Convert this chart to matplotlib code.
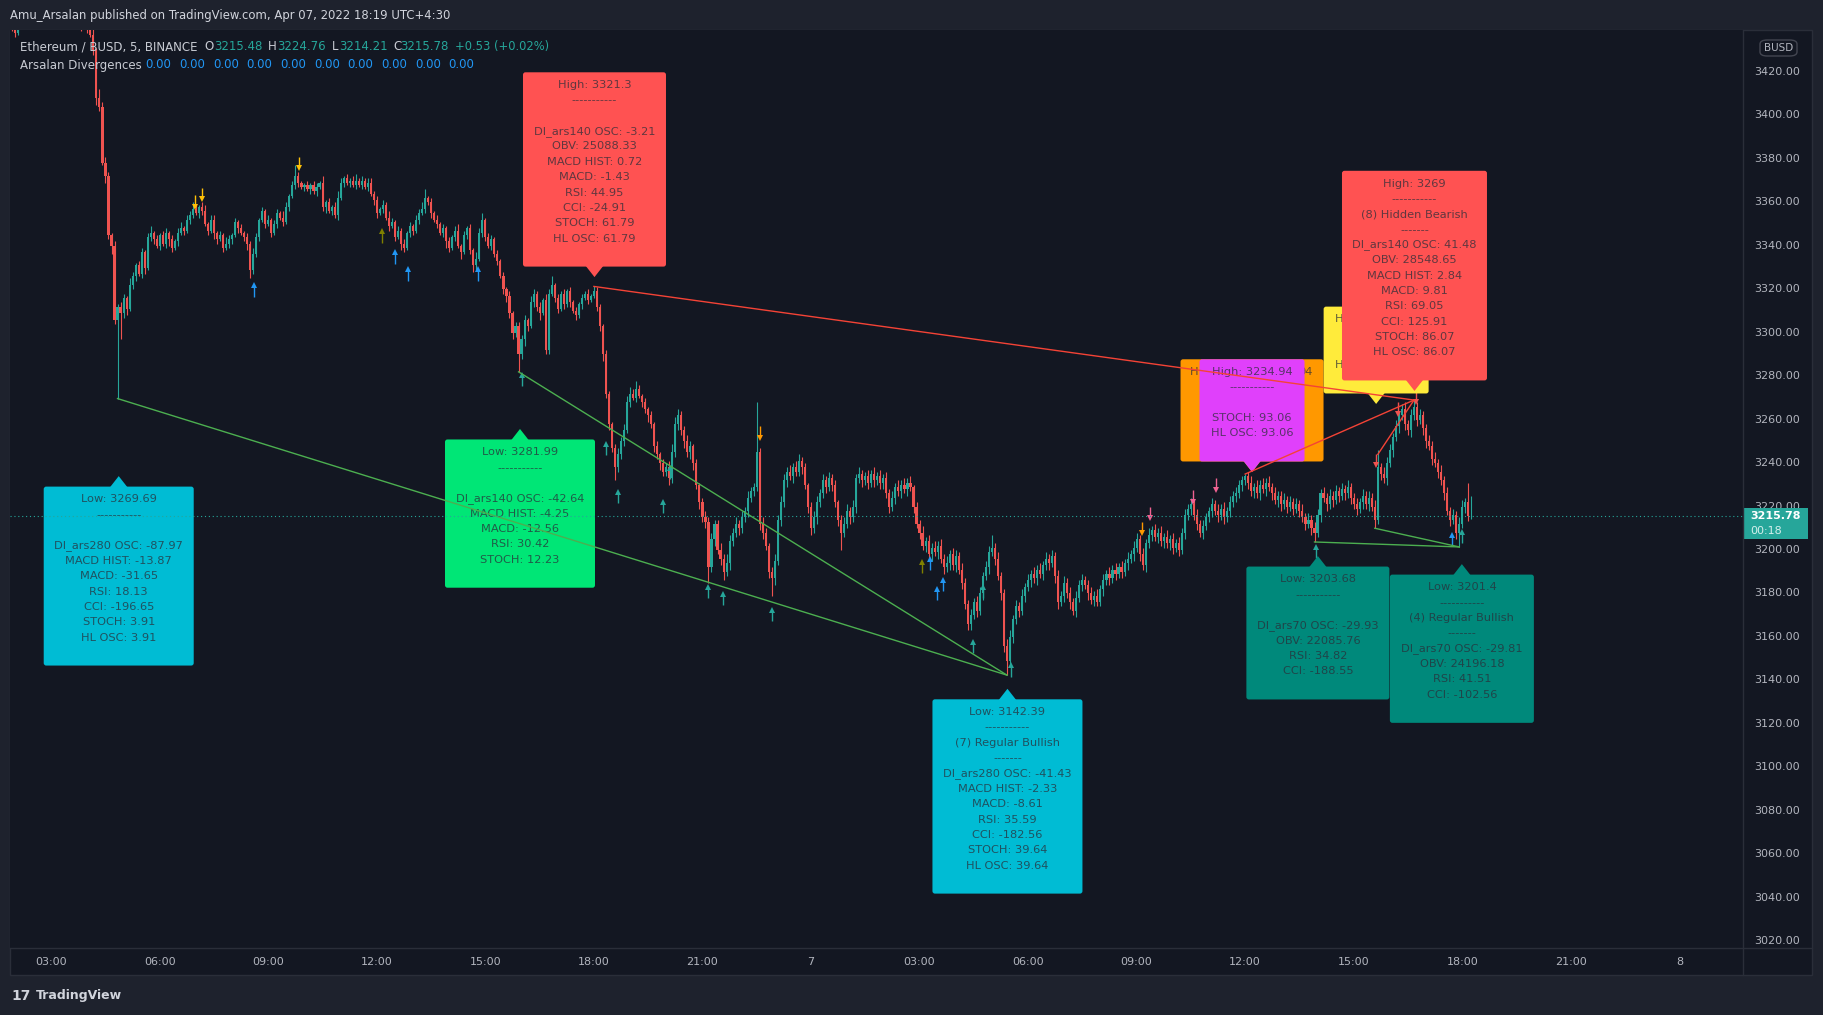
import numpy as np
import matplotlib
matplotlib.use("Agg")
import matplotlib.pyplot as plt
from matplotlib.patches import Polygon, FancyBboxPatch, Rectangle
from matplotlib.lines import Line2D
from matplotlib.transforms import IdentityTransform

plt.rcParams['font.family'] = ['DejaVu Sans']

# ETHBUSD 5m candles, 6 Apr 01:55 -> 7 Apr 18:15 (time in hours from 6 Apr 00:00)
t_start = 1 + 55 / 60
first_open = 3443
closes = [
    3441,                                                                        # 01:55
    3438, 3443, 3448, 3452, 3455, 3458, 3456, 3460, 3457, 3461, 3459, 3455,      # 02
    3452, 3456, 3453, 3450, 3448, 3451, 3446, 3444, 3442, 3445, 3441, 3443,      # 03
    3440, 3437, 3430, 3408, 3404, 3378, 3372, 3345, 3340, 3306, 3312, 3309,      # 04
    3316, 3311, 3322, 3326, 3331, 3327, 3337, 3330, 3344, 3346, 3343, 3340,      # 05
    3345, 3341, 3346, 3343, 3339, 3342, 3346, 3348, 3347, 3352, 3354, 3357,      # 06
    3355, 3358, 3356, 3350, 3347, 3352, 3346, 3343, 3345, 3339, 3341, 3343,      # 07
    3345, 3351, 3348, 3346, 3344, 3341, 3329, 3336, 3344, 3352, 3356, 3350,      # 08
    3352, 3346, 3350, 3355, 3353, 3351, 3358, 3363, 3368, 3372, 3369, 3367,      # 09
    3368, 3366, 3368, 3365, 3367, 3369, 3358, 3360, 3356, 3358, 3354, 3362,      # 10
    3369, 3371, 3369, 3370, 3368, 3370, 3368, 3370, 3367, 3369, 3364, 3361,      # 11
    3355, 3357, 3359, 3353, 3349, 3351, 3344, 3347, 3341, 3339, 3346, 3349,      # 12
    3347, 3352, 3355, 3357, 3362, 3360, 3355, 3352, 3350, 3346, 3348, 3342,      # 13
    3339, 3344, 3347, 3340, 3337, 3345, 3348, 3338, 3331, 3334, 3346, 3352,      # 14
    3344, 3340, 3343, 3336, 3333, 3326, 3320, 3317, 3309, 3300, 3303, 3290,      # 15
    3297, 3306, 3303, 3314, 3318, 3312, 3309, 3315, 3292, 3318, 3322, 3316,      # 16
    3311, 3318, 3313, 3319, 3314, 3310, 3308, 3313, 3316, 3318, 3315, 3317,      # 17
    3319, 3312, 3303, 3290, 3272, 3258, 3247, 3238, 3244, 3250, 3255, 3268,      # 18
    3272, 3270, 3274, 3271, 3268, 3265, 3262, 3258, 3248, 3244, 3240, 3236,      # 19
    3238, 3233, 3245, 3258, 3262, 3255, 3250, 3245, 3248, 3240, 3230, 3222,      # 20
    3215, 3213, 3192, 3205, 3212, 3200, 3196, 3190, 3194, 3204, 3208, 3212,      # 21
    3210, 3215, 3218, 3224, 3227, 3229, 3245, 3212, 3208, 3202, 3190, 3187,      # 22
    3195, 3214, 3222, 3232, 3236, 3234, 3238, 3236, 3241, 3238, 3230, 3220,      # 23
    3210, 3215, 3222, 3226, 3232, 3229, 3233, 3230, 3222, 3214, 3208, 3212,      # 7th 00
    3218, 3215, 3220, 3233, 3235, 3232, 3234, 3231, 3235, 3232, 3234, 3231,      # 01
    3233, 3226, 3220, 3224, 3229, 3227, 3230, 3228, 3231, 3229, 3220, 3212,      # 02
    3208, 3202, 3204, 3198, 3201, 3199, 3202, 3196, 3192, 3194, 3198, 3193,      # 03
    3197, 3191, 3185, 3175, 3166, 3170, 3176, 3172, 3180, 3188, 3192, 3199,      # 04
    3201, 3196, 3188, 3180, 3156, 3149, 3160, 3168, 3174, 3172, 3179, 3183,      # 05
    3186, 3189, 3187, 3191, 3189, 3193, 3196, 3194, 3197, 3188, 3176, 3179,      # 06
    3185, 3180, 3176, 3172, 3178, 3184, 3186, 3184, 3180, 3177, 3179, 3176,      # 07
    3182, 3186, 3189, 3187, 3191, 3189, 3192, 3190, 3194, 3196, 3198, 3201,      # 08
    3205, 3198, 3193, 3203, 3207, 3209, 3206, 3208, 3204, 3206, 3203, 3205,      # 09
    3201, 3203, 3200, 3208, 3216, 3219, 3221, 3216, 3212, 3208, 3211, 3215,      # 10
    3218, 3221, 3218, 3216, 3219, 3215, 3218, 3222, 3225, 3226, 3230, 3232,      # 11
    3234, 3231, 3227, 3229, 3226, 3230, 3228, 3231, 3229, 3226, 3223, 3225,      # 12
    3221, 3223, 3220, 3222, 3219, 3221, 3218, 3215, 3212, 3214, 3210, 3208,      # 13
    3216, 3226, 3224, 3221, 3225, 3223, 3227, 3225, 3228, 3226, 3229, 3224,      # 14
    3221, 3219, 3222, 3225, 3221, 3224, 3220, 3214, 3238, 3235, 3233, 3240,      # 15
    3246, 3252, 3257, 3262, 3265, 3258, 3255, 3262, 3266, 3260, 3262, 3256,      # 16
    3250, 3248, 3242, 3240, 3236, 3232, 3226, 3218, 3214, 3216, 3208, 3212,      # 17
    3220, 3222, 3215.48, 3215.78,                                                # 18
]
# wick lengths above max(open, close) and below min(open, close)
hi_wick = [
    2,
    3, 2, 2, 3, 1, 2, 3, 2, 1, 2, 2, 1,
    2, 1, 3, 2, 1, 2, 1, 2, 3, 1, 2, 2,
    1, 2, 3, 1, 4, 2, 3, 2, 1, 2, 1, 2,
    2, 1, 3, 2, 1, 2, 2, 1, 2, 3, 1, 2,
    1, 2, 2, 1, 2, 1, 2, 3, 1, 2, 2, 3,
    2, 1, 2, 3, 1, 2, 2, 1, 2, 1, 3, 2,
    1, 2, 1, 2, 1, 2, 1, 3, 2, 1, 2, 1,
    2, 1, 2, 2, 1, 3, 2, 1, 2, 5, 2, 1,
    1, 2, 1, 2, 2, 1, 3, 1, 2, 1, 2, 3,
    2, 1, 2, 1, 2, 3, 1, 2, 1, 2, 2, 1,
    2, 1, 2, 1, 3, 2, 1, 2, 1, 2, 1, 2,
    1, 2, 2, 3, 4, 1, 2, 1, 2, 1, 2, 1,
    2, 1, 2, 3, 1, 2, 1, 2, 1, 3, 2, 3,
    1, 2, 2, 1, 2, 1, 2, 1, 2, 1, 2, 2,
    2, 2, 1, 3, 2, 1, 2, 1, 3, 2, 4, 1,
    2, 1, 2, 1, 2, 1, 2, 1, 2, 1, 2, 1,
    2.3, 2, 1, 1, 2, 1, 1, 2, 3, 2, 3, 3,
    3, 2, 4, 2, 1, 2, 1, 2, 1, 2, 1, 2,
    2, 3, 4, 3, 3, 2, 2, 3, 2, 1, 2, 1,
    2, 3, 2, 3, 2, 2, 3, 2, 4, 3, 2, 3,
    2, 3, 2, 3, 2, 2, 23, 2, 3, 2, 1, 2,
    3, 2, 3, 3, 2, 3, 2, 3, 3, 2, 2, 1,
    2, 3, 3, 2, 3, 2, 3, 2, 2, 1, 2, 3,
    3, 2, 3, 2, 3, 2, 2, 3, 2, 3, 2, 3,
    2, 3, 2, 3, 2, 3, 2, 3, 2, 3, 1, 2,
    2, 3, 2, 3, 2, 3, 2, 3, 2, 3, 2, 3,
    3, 2, 3, 2, 2, 3, 2, 3, 3, 2, 3, 3,
    6, 2, 3, 2, 2, 3, 3, 2, 3, 2, 3, 2,
    3, 2, 3, 2, 3, 2, 3, 2, 3, 2, 3, 2,
    3, 2, 3, 2, 3, 2, 3, 2, 2, 3, 2, 3,
    2, 3, 2, 3, 2, 3, 2, 3, 2, 3, 2, 3,
    3, 2, 3, 2, 3, 2, 3, 2, 3, 2, 3, 2,
    3, 2, 3, 2, 3, 2, 3, 2, 3, 2, 3, 2,
    2, 3, 2, 3, 2, 3, 2, 3, 2, 3, 2, 2,
    0.94, 2, 3, 2, 3, 2, 3, 2, 3, 2, 3, 2,
    2, 3, 2, 3, 2, 3, 2, 3, 2, 3, 2, 3,
    3, 2, 3, 2, 3, 2, 3, 2, 3, 2, 3, 2,
    2, 3, 2, 3, 2, 3, 2, 3, 8, 2, 3, 3,
    3, 2, 3, 2, 2, 3, 2, 3, 3, 2, 3, 2,
    2, 3, 2, 3, 2, 3, 2, 3, 2, 3, 2, 3,
    3, 2, 9, 8.98,
]
lo_wick = [
    2,
    2, 1, 3, 2, 2, 1, 2, 3, 1, 2, 1, 2,
    1, 2, 2, 1, 3, 2, 1, 2, 2, 1, 2, 1,
    2, 1, 2, 3, 2, 1, 3, 2, 4, 2, 36.3, 12,
    2, 3, 1, 2, 2, 1, 2, 3, 1, 2, 2, 1,
    2, 1, 2, 3, 2, 1, 2, 1, 2, 1, 2, 1,
    1, 2, 2, 1, 2, 1, 3, 2, 1, 2, 1, 2,
    2, 1, 2, 1, 2, 3, 4, 2, 1, 2, 1, 2,
    1, 2, 1, 2, 1, 2, 1, 2, 1, 2, 2, 1,
    2, 1, 2, 1, 2, 1, 2, 3, 1, 2, 1, 2,
    1, 2, 1, 2, 1, 2, 1, 2, 1, 2, 1, 2,
    2, 1, 2, 1, 2, 1, 2, 1, 3, 2, 1, 2,
    2, 1, 2, 1, 2, 1, 2, 1, 2, 1, 2, 3,
    2, 1, 2, 1, 3, 1, 2, 2, 3, 2, 1, 2,
    2, 1, 2, 1, 2, 1, 2, 3, 2, 3, 2, 8,
    2, 3, 2, 1, 2, 2, 3, 1, 2, 2, 1, 2,
    2, 1, 2, 1, 2, 1, 2, 1, 2, 1, 2, 1,
    1, 2, 2, 3, 2, 3, 2, 6, 2, 2, 2, 1,
    2, 1, 2, 1, 2, 2, 3, 2, 3, 2, 3, 2,
    2, 3, 2, 2, 3, 2, 3, 2, 3, 3, 2, 3,
    2, 3, 7, 2, 3, 2, 3, 4, 2, 3, 2, 2,
    3, 2, 2, 3, 2, 2, 2, 3, 3, 2, 3, 8,
    3, 2, 3, 2, 3, 2, 3, 2, 2, 3, 2, 3,
    3, 2, 3, 2, 2, 3, 2, 3, 2, 3, 8, 2,
    2, 3, 2, 3, 2, 3, 2, 3, 2, 3, 2, 3,
    3, 2, 3, 2, 3, 2, 3, 2, 3, 2, 3, 2,
    3, 2, 3, 2, 3, 2, 3, 2, 3, 2, 3, 2,
    3, 2, 3, 2, 3, 3, 2, 3, 2, 3, 2, 3,
    2, 3, 2, 3, 3, 6.61, 2, 3, 2, 3, 2, 3,
    2, 3, 2, 3, 2, 3, 2, 3, 2, 3, 3, 2,
    3, 2, 3, 2, 3, 2, 3, 2, 3, 2, 3, 2,
    2, 3, 2, 3, 2, 3, 2, 3, 2, 3, 2, 3,
    2, 3, 2, 3, 2, 3, 2, 3, 2, 3, 2, 3,
    3, 2, 3, 2, 3, 2, 3, 2, 3, 2, 3, 2,
    2, 3, 2, 3, 2, 3, 2, 3, 2, 3, 2, 3,
    2, 3, 2, 3, 2, 3, 2, 3, 2, 3, 2, 3,
    3, 2, 3, 2, 3, 2, 3, 2, 3, 2, 3, 4.32,
    2, 3, 2, 3, 2, 3, 2, 3, 2, 3, 2, 3,
    2, 3, 2, 3, 2, 3, 2, 4, 2, 3, 2, 3,
    2, 3, 2, 3, 2, 3, 2, 3, 2, 3, 2, 3,
    3, 2, 3, 2, 3, 2, 3, 2, 3, 2, 3, 6.6,
    2, 3, 2, 1.27,
]

# divergence lines: (t0, p0, t1, p1)
green_lines = [(4.833, 3269.69, 29.417, 3142.39),
               (15.917, 3281.99, 29.417, 3142.39),
               (37.917, 3203.68, 41.917, 3201.4),
               (39.583, 3210.0, 41.917, 3201.4)]
red_lines = [(18.0, 3321.3, 40.667, 3269.0),
             (36.0, 3234.94, 40.667, 3269.0),
             (39.667, 3244.0, 40.667, 3269.0)]

# signal arrows (centre of each arrow)
arrow_t = [16.01, 18.34, 18.67, 19.9, 20.11, 21.14, 21.56, 22.92, 28.49, 28.75, 29.52, 37.95, 42.0,
           8.6, 12.5, 12.85, 14.81, 27.3, 27.49, 27.64, 41.73,
           6.98, 7.18, 9.86, 22.59, 33.16,
           12.13, 27.08,
           33.36, 34.55, 35.2,
           39.63, 40.22, 40.72]
arrow_p = [3278.5, 3246.5, 3224.6, 3220.0, 3235.6, 3180.8, 3177.7, 3170.1, 3155.5, 3180.8, 3144.7, 3199.2, 3206.1,
           3319.6, 3334.7, 3326.9, 3326.9, 3193.8, 3180.0, 3183.9, 3204.6,
           3360.3, 3363.7, 3378.0, 3254.0, 3210.0,
           3344.4, 3192.3,
           3216.9, 3224.5, 3230.0,
           3241.4, 3265.0, 3270.5]
arrow_kind = ['teal'] * 13 + ['blue'] * 8 + ['yellow'] * 3 + ['orange'] * 2 + ['olive'] * 2 + ['pink'] * 3 + ['red'] * 3
# kind -> (direction, colour); +1 points up, -1 points down
arrow_style = {'teal': (1, '#26a69a'), 'blue': (1, '#2196f3'), 'yellow': (-1, '#ffc107'),
               'orange': (-1, '#ff9800'), 'olive': (1, '#808000'), 'pink': (-1, '#f06292'),
               'red': (-1, '#ef5350')}

# divergence labels (anchor = tip of the pointer)
labels = [
    dict(t=4.866, p=3234.0, up=True, color='#00bcd4', w=150,
         lines=["Low: 3269.69", "-----------", "", "DI_ars280 OSC: -87.97", "MACD HIST: -13.87",
                "MACD: -31.65", "RSI: 18.13", "CCI: -196.65", "STOCH: 3.91", "HL OSC: 3.91"]),
    dict(t=18.016, p=3325.6, up=False, color='#ff5252', w=143,
         lines=["High: 3321.3", "-----------", "", "DI_ars140 OSC: -3.21", "OBV: 25088.33",
                "MACD HIST: 0.72", "MACD: -1.43", "RSI: 44.95", "CCI: -24.91", "STOCH: 61.79",
                "HL OSC: 61.79"]),
    dict(t=15.957, p=3255.7, up=True, color='#00e676', w=150,
         lines=["Low: 3281.99", "-----------", "", "DI_ars140 OSC: -42.64", "MACD HIST: -4.25",
                "MACD: -12.56", "RSI: 30.42", "STOCH: 12.23"]),
    dict(t=29.43, p=3136.1, up=True, color='#00bcd4', w=150,
         lines=["Low: 3142.39", "-----------", "(7) Regular Bullish", "-------", "DI_ars280 OSC: -41.43",
                "MACD HIST: -2.33", "MACD: -8.61", "RSI: 35.59", "CCI: -182.56", "STOCH: 39.64",
                "HL OSC: 39.64"]),
    dict(t=38.01, p=3197.2, up=True, color='#00897b', w=143,
         lines=["Low: 3203.68", "-----------", "", "DI_ars70 OSC: -29.93", "OBV: 22085.76",
                "RSI: 34.82", "CCI: -188.55"]),
    dict(t=41.99, p=3193.5, up=True, color='#00897b', w=144,
         lines=["Low: 3201.4", "-----------", "(4) Regular Bullish", "-------", "DI_ars70 OSC: -29.81",
                "OBV: 24196.18", "RSI: 41.51", "CCI: -102.56"]),
    # orange and yellow labels sit under other labels: only their edges show
    dict(t=36.19, p=3235.9, up=False, color='#ff9800', w=143, n=5, lines=[],
         pieces=[(0, "H", 'left', -62), (0, "94", 'right', 61)]),
    dict(t=36.19, p=3235.9, up=False, color='#e040fb', w=105,
         lines=["High: 3234.94", "-----------", "", "STOCH: 93.06", "HL OSC: 93.06"]),
    dict(t=39.62, p=3267.2, up=False, color='#ffeb3b', w=105, n=4, lines=[],
         pieces=[(0, "H", 'left', -41), (3, "H", 'left', -41)]),
    dict(t=40.68, p=3273.2, up=False, color='#ff5252', w=145,
         lines=["High: 3269", "-----------", "(8) Hidden Bearish", "-------", "DI_ars140 OSC: 41.48",
                "OBV: 28548.65", "MACD HIST: 2.84", "MACD: 9.81", "RSI: 69.05", "CCI: 125.91",
                "STOCH: 86.07", "HL OSC: 86.07"]),
]

price_ticks = list(range(3020, 3421, 20))
time_ticks = [3, 6, 9, 12, 15, 18, 21, 24, 27, 30, 33, 36, 39, 42, 45, 48]
time_names = ['03:00', '06:00', '09:00', '12:00', '15:00', '18:00', '21:00', '7',
              '03:00', '06:00', '09:00', '12:00', '15:00', '18:00', '21:00', '8']
last_price = 3215.78
ohlc_text = [('O', '3215.48', 204.7), ('H', '3224.76', 267.5), ('L', '3214.21', 331.5), ('C', '3215.78', 393)]

# ---------------------------------------------------------------------------
W, H = 1824, 1015
BG = '#131722'
GRID = '#2a2e39'
TXT = '#b2b5be'
fig = plt.figure(figsize=(W / 100, H / 100), dpi=100, facecolor='#1e222d')


def fx(x):
    return x / W


def fy(y):
    return 1 - y / H


def ftext(x, y, s, **kw):
    kw.setdefault('va', 'center')
    return fig.text(fx(x), fy(y), s, **kw)


fig.add_artist(Rectangle((fx(10.5), fy(975)), (1812 - 10.5) / W, (975 - 30) / H,
                         transform=fig.transFigure, fc=BG, ec=GRID, lw=1, zorder=-5))

ax = fig.add_axes([fx(10.5), fy(948), (1743 - 10.5) / W, (948 - 30) / H])
ax.set_facecolor(BG)
ax.set_xlim(1.875, 49.76)
ax.set_ylim(3016.8, 3439.33)
ax.set_xticks([])
ax.set_yticks([])
for s in ax.spines.values():
    s.set_visible(False)

# candles
c = np.array(closes, dtype=float)
o = np.r_[first_open, c[:-1]]
hi = np.maximum(o, c) + np.array(hi_wick, dtype=float)
lo = np.minimum(o, c) - np.array(lo_wick, dtype=float)
t = t_start + np.arange(len(c)) / 12
cols = np.where(c >= o, '#26a69a', '#ef5350')
ax.vlines(t, lo, hi, colors=cols, lw=0.8, zorder=2)
ax.bar(t, np.maximum(np.abs(c - o), 0.3), bottom=np.minimum(o, c), width=0.058,
       color=cols, lw=0, zorder=2.1)

# arrows: thin stem + small head, about 13 px tall
half = 6.5 / 2.1725
for at, ap, k in zip(arrow_t, arrow_p, arrow_kind):
    d, col = arrow_style[k]
    ax.plot([at, at], [ap - d * half, ap + d * half * 0.6], color=col, lw=1.0, zorder=2.5,
            solid_capstyle='butt')
    ax.plot(at, ap + d * half * 0.75, marker='^' if d > 0 else 'v', ms=4.5, color=col,
            mew=0, zorder=2.5)

# labels
idt = IdentityTransform()


def draw_label(lb, z):
    px, py = ax.transData.transform((lb['t'], lb['p']))
    n = lb.get('n', len(lb['lines']))
    h = 12.8 + (n - 1) * 15.35 + 28
    w = lb['w']
    if lb['up']:
        top = py - 10.5
        bot = top - h
        tri = [(px - 9, top - 1), (px + 9, top - 1), (px, py)]
    else:
        bot = py + 10.5
        top = bot + h
        tri = [(px - 9, bot + 1), (px + 9, bot + 1), (px, py)]
    ax.add_patch(FancyBboxPatch((px - w / 2, bot), w, h, boxstyle='round,pad=0,rounding_size=2.5',
                                fc=lb['color'], ec='none', transform=idt, zorder=z))
    ax.add_patch(Polygon(tri, closed=True, fc=lb['color'], ec='none', transform=idt, zorder=z))
    for i, s in enumerate(lb['lines']):
        ax.text(px, top - 12.8 - i * 15.35, s, transform=idt, ha='center', va='center',
                fontsize=8.2, color='#2a2e39', alpha=0.75, zorder=z + 0.01)
    for i, s, ha, dx in lb.get('pieces', []):
        ax.text(px + dx, top - 12.8 - i * 15.35, s, transform=idt, ha=ha, va='center',
                fontsize=8.2, color='#2a2e39', alpha=0.75, zorder=z + 0.01)


for k, lb in enumerate(labels):
    draw_label(lb, 3 + k * 0.1)

# divergence lines
for t0, p0, t1, p1 in green_lines:
    ax.plot([t0, t1], [p0, p1], color='#4caf50', lw=1.0, zorder=6)
for t0, p0, t1, p1 in red_lines:
    ax.plot([t0, t1], [p0, p1], color='#f44336', lw=1.0, zorder=6)

ax.axhline(last_price, color='#26a69a', lw=0.8, ls=(0, (1, 2.5)), zorder=6)

# price scale
ytr = ax.get_yaxis_transform()
for p in price_ticks:
    ax.text(1.0065, p, f'{p:.2f}', transform=ytr, fontsize=8, color=TXT, ha='left', va='center',
            clip_on=False)
yl = ax.transData.transform((0, last_price))[1]
ax.add_patch(Rectangle((1743, yl - 23), 65, 31, transform=idt, fc='#26a69a', ec='none',
                       zorder=10, clip_on=False))
ax.text(1750, yl - 0.5, f'{last_price:.2f}', transform=idt, fontsize=8, color='white',
        fontweight='bold', ha='left', va='center', zorder=11)
ax.text(1750, yl - 15, '00:18', transform=idt, fontsize=8, color='#d4efec',
        ha='left', va='center', zorder=11)

fig.add_artist(FancyBboxPatch((fx(1760), fy(56)), 37 / W, 16 / H,
                              boxstyle='round,pad=0,rounding_size=0.004',
                              transform=fig.transFigure, fc='none', ec='#434651', lw=1))
ftext(1778.5, 48, 'BUSD', fontsize=7.5, color=TXT, ha='center')

# time scale
xtr = ax.get_xaxis_transform()
for tt, nm in zip(time_ticks, time_names):
    ax.text(tt, -0.0153, nm, transform=xtr, fontsize=8, color=TXT, ha='center', va='center',
            clip_on=False)

# frame separators
fig.add_artist(Line2D([fx(1743), fx(1743)], [fy(30), fy(975)], color=GRID, lw=1))
fig.add_artist(Line2D([fx(10.5), fx(1812)], [fy(948), fy(948)], color=GRID, lw=1))

# header, legend, footer
ftext(10, 15, 'Amu_Arsalan published on TradingView.com, Apr 07, 2022 18:19 UTC+4:30',
      fontsize=8.4, color='#d1d4dc')
ftext(19.8, 46.5, 'Ethereum / BUSD, 5, BINANCE', fontsize=8.5, color='#c8cbd3')
for letter, val, x in ohlc_text:
    ftext(x, 46.5, letter, fontsize=8.5, color='#c8cbd3')
    ftext(x + (9.3 if letter in 'OH' else 7.5), 46.5, val, fontsize=8.5, color='#26a69a')
ftext(455, 46.5, '+0.53 (+0.02%)', fontsize=8.3, color='#26a69a')
ftext(19.8, 65, 'Arsalan Divergences', fontsize=8.5, color='#c8cbd3')
for k in range(10):
    ftext(145.4 + k * 33.7, 65, '0.00', fontsize=8.5, color='#2196f3')

ftext(11, 996, '17', fontsize=10, color='#d1d4dc', fontweight='bold')
ftext(36, 996, 'TradingView', fontsize=9, color='#d1d4dc', fontweight='semibold')

fig.savefig('out.png', dpi=100, facecolor=fig.get_facecolor())
